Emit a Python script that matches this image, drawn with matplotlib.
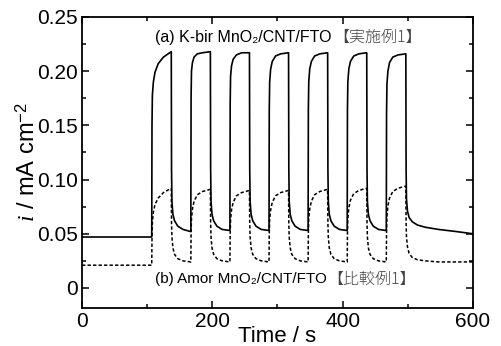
import matplotlib
matplotlib.use('Agg')
import matplotlib.pyplot as plt
from matplotlib.ticker import MultipleLocator, FuncFormatter

# time axis shared by both traces (s)
time = [0, 107,
        107.4, 108, 109.5, 112, 117, 125, 137,
        137.4, 138, 139.5, 142, 147, 155, 167,
        167.4, 168, 169.5, 172, 177, 185, 197,
        197.4, 198, 199.5, 202, 207, 215, 227,
        227.4, 228, 229.5, 232, 237, 245, 257,
        257.4, 258, 259.5, 262, 267, 275, 287,
        287.4, 288, 289.5, 292, 297, 305, 317,
        317.4, 318, 319.5, 322, 327, 335, 347,
        347.4, 348, 349.5, 352, 357, 365, 377,
        377.4, 378, 379.5, 382, 387, 395, 407,
        407.4, 408, 409.5, 412, 417, 425, 437,
        437.4, 438, 439.5, 442, 447, 455, 467,
        467.4, 468, 469.5, 472, 477, 485, 497,
        497.4, 498, 499.5, 502, 507, 515, 527, 547, 575, 600]

# (a) K-bir MnO2/CNT/FTO
cur_a = [0.047, 0.047,
         0.150, 0.178, 0.190, 0.199, 0.207, 0.213, 0.218,
         0.110, 0.080, 0.068, 0.062, 0.057, 0.054, 0.052,
         0.175, 0.200, 0.208, 0.213, 0.216, 0.217, 0.218,
         0.110, 0.080, 0.068, 0.062, 0.057, 0.054, 0.053,
         0.170, 0.195, 0.205, 0.211, 0.215, 0.217, 0.217,
         0.110, 0.080, 0.068, 0.062, 0.057, 0.054, 0.053,
         0.165, 0.190, 0.202, 0.209, 0.214, 0.216, 0.217,
         0.110, 0.080, 0.068, 0.062, 0.057, 0.054, 0.053,
         0.165, 0.190, 0.202, 0.209, 0.214, 0.216, 0.217,
         0.110, 0.080, 0.068, 0.062, 0.057, 0.054, 0.053,
         0.165, 0.190, 0.202, 0.209, 0.214, 0.216, 0.217,
         0.110, 0.080, 0.068, 0.062, 0.057, 0.054, 0.053,
         0.160, 0.188, 0.200, 0.208, 0.213, 0.215, 0.216,
         0.110, 0.082, 0.071, 0.065, 0.061, 0.058, 0.056, 0.054, 0.052, 0.050]

# (b) Amor MnO2/CNT/FTO
cur_b = [0.021, 0.021,
         0.045, 0.060, 0.070, 0.077, 0.083, 0.088, 0.092,
         0.060, 0.047, 0.037, 0.031, 0.027, 0.025, 0.024,
         0.050, 0.064, 0.073, 0.080, 0.086, 0.089, 0.091,
         0.060, 0.047, 0.037, 0.031, 0.027, 0.025, 0.024,
         0.050, 0.063, 0.072, 0.079, 0.085, 0.088, 0.090,
         0.060, 0.047, 0.037, 0.031, 0.027, 0.025, 0.024,
         0.050, 0.063, 0.072, 0.079, 0.085, 0.088, 0.090,
         0.060, 0.047, 0.037, 0.031, 0.027, 0.025, 0.024,
         0.050, 0.064, 0.073, 0.080, 0.086, 0.089, 0.091,
         0.060, 0.047, 0.037, 0.031, 0.027, 0.025, 0.024,
         0.050, 0.064, 0.074, 0.081, 0.087, 0.090, 0.092,
         0.060, 0.047, 0.037, 0.031, 0.027, 0.025, 0.024,
         0.052, 0.066, 0.076, 0.083, 0.089, 0.092, 0.094,
         0.060, 0.047, 0.038, 0.032, 0.028, 0.026, 0.025, 0.024, 0.024, 0.024]

label_a = '(a) K-bir MnO\u2082/CNT/FTO'
label_b = '(b) Amor MnO\u2082/CNT/FTO'
tag_a = '\u3010実施例1\u3011'
tag_b = '\u3010比較例1\u3011'

plt.rcParams['font.family'] = ['Liberation Sans', 'DejaVu Sans', 'Noto Sans CJK JP']
plt.rcParams['mathtext.fontset'] = 'custom'
plt.rcParams['mathtext.rm'] = 'Liberation Sans'
plt.rcParams['mathtext.it'] = 'Liberation Serif:italic'

fig = plt.figure(figsize=(5.01, 3.46), dpi=100)
ax = fig.add_axes([0.1637, 0.1098, 0.7803, 0.8411])

ax.plot(time, cur_a, color='black', lw=1.2)
ax.plot(time, cur_b, color='black', lw=1.1, linestyle=(0, (2.2, 1.4)))

ax.set_xlim(0, 600)
ax.set_ylim(-0.0185, 0.25)
ax.xaxis.set_major_locator(MultipleLocator(200))
ax.xaxis.set_minor_locator(MultipleLocator(100))
ax.yaxis.set_major_locator(MultipleLocator(0.05))
ax.yaxis.set_minor_locator(MultipleLocator(0.025))
ax.yaxis.set_major_formatter(FuncFormatter(lambda v, p: '0' if abs(v) < 1e-9 else '%.2f' % v))

ax.tick_params(which='both', direction='in', top=True, right=True, width=1.1, labelsize=15, pad=3)
ax.tick_params(which='major', length=5)
ax.tick_params(which='minor', length=3)
for s in ax.spines.values():
    s.set_linewidth(1.3)

ax.set_xlabel('Time / s', fontsize=16, labelpad=-3.5)
ax.set_ylabel(r'$i$ / mA cm$^{-2}$', fontsize=17, labelpad=-2)

ax.text(112, 0.2315, label_a, fontsize=11.5, va='center', ha='left')
ax.text(386, 0.2315, tag_a, fontsize=11.5, va='center', ha='left',
        family=['Noto Sans CJK JP'], color='#444444', fontweight='light')
ax.text(112, 0.0083, label_b, fontsize=11, va='center', ha='left')
ax.text(376, 0.0083, tag_b, fontsize=11.5, va='center', ha='left',
        family=['Noto Sans CJK JP'], color='#444444', fontweight='light')

fig.savefig('out.png', dpi=100)
